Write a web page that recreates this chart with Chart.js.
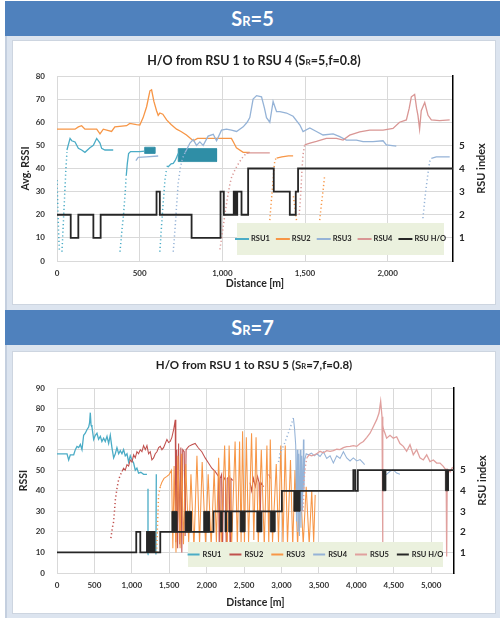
<!DOCTYPE html>
<html>
<head>
<meta charset="utf-8">
<script src="https://cdn.jsdelivr.net/npm/chart.js@4.4.1/dist/chart.umd.min.js"></script>
<style>
  html, body { margin: 0; padding: 0; background: #fff; }
  body { width: 500px; height: 618px; position: relative; overflow: hidden; font-family: Lato, "Open Sans", sans-serif; }
  .bar { position: absolute; left: 5px; width: 495px; height: 35px; background: #4f81bd; color: #fff;
         font-weight: bold; font-size: 20px; text-align: center; line-height: 35px; }
  .bar .r { font-size: 13px; }
  .panel { position: absolute; left: 5px; width: 495px; background: #dce4ef; border-left: 2px solid #c4cfdf; box-sizing: border-box; }
  .card { position: absolute; left: 13px; width: 482px; background: #fff; box-shadow: 0 0 0 1px #cdd5e0; }
  .card canvas { position: absolute; left: 0; top: 0; }
  .ttl { position: absolute; left: 0; right: 0; text-align: center; font-weight: bold; color: #1f1f1f; white-space: nowrap; }
  .ttl .r { font-size: 0.66em; }
</style>
</head>
<body>
<div class="bar" style="top:1px">S<span class="r">R</span>=5</div>
<div class="panel" style="top:36px;height:274px"></div>
<div class="card" style="top:41px;height:263px">
  <canvas id="c5" width="482" height="263"></canvas>
  <div class="ttl" style="top:12px;font-size:12.5px;line-height:16px">H/O from RSU 1 to RSU 4 (S<span class="r">R</span>=5,f=0.8)</div>
</div>
<div class="bar" style="top:310px">S<span class="r">R</span>=7</div>
<div class="panel" style="top:345px;height:273px"></div>
<div class="card" style="top:352px;height:261px">
  <canvas id="c7" width="482" height="261"></canvas>
  <div class="ttl" style="top:5px;font-size:11.5px;line-height:15px">H/O from RSU 1 to RSU 5 (S<span class="r">R</span>=7,f=0.8)</div>
</div>

<script>
// ---------- S_R = 5 : [distance m, RSSI]; null breaks a trace ----------
const s5Rsu1 = [[60,48],[79,53],[89,52],[109,51.5],[129,48.7],[149,48],[169,47],[199,49],[220,50],[240,53],[260,51],[270,48.7],[290,48],[340,48], null,
  [419,37],[425,42],[433,46.5],[445,47.3],[500,47.3],[530,47.5], null,
  [663,41],[673,40.8],[690,42],[703,42.2],[715,43.5],[723,44.8],[733,46.5]];
const s5Rsu1Approach = [[0,35],[3,28],[6,21],[9,14],[12,8],[15,4], null,
  [30,4],[36,13],[42,22],[48,31],[54,40],[60,47], null,
  [381,4],[391,12],[401,19],[411,28],[417,35],[419,37], null,
  [622,4],[632,15],[642,25],[653,35],[663,40]];
const s5Rsu1Dense = [[530,49.2],[592,49.2],[592,46.5],[530,46.5],[530,49.2], null,
  [733,43],[733,48.6],[965,48.6],[965,43],[733,43]];
const s5Rsu2 = [[0,57],[109,57],[129,58],[149,58.5],[169,57],[240,57],[260,55],[280,57],[330,56],[350,58],[421,58.5],[440,59.5],[481,59],
  [501,58.8],[521,62],[542,66.7],[562,73.6],[572,74],[586,69],[602,65],[612,63],[622,64],[640,63.5],[663,61],[690,59],[723,57],[750,56],
  [783,54.5],[824,52],[850,53],[884,53],[945,53],[1005,53],[1055,53],[1070,51],[1085,49],[1126,47],[1166,47], null,
  [1328,44.5],[1360,45],[1400,45.5],[1428,45.5]];
const s5Rsu2Approach = [[1287,17.7],[1295,25],[1305,33],[1312,40],[1318,43.7],[1328,44.5], null,
  [1430,28],[1440,22],[1450,17], null,
  [1589,17.7],[1600,25],[1610,31],[1619,37]];
const s5Rsu3 = [[477,43.4],[491,44.8],[540,45],[612,45.4], null,
  [775,47],[783,48],[804,51],[824,52.5],[844,50],[864,51.5],[884,50],[914,54],[945,54.8],[965,52],[995,56.6],[1025,57],[1055,56.6],
  [1086,56],[1126,58],[1150,60],[1166,62],[1186,70],[1207,71.5],[1237,71],[1255,66],[1267,62],[1287,60],[1307,69],[1328,64.6],
  [1348,64.6],[1388,64],[1428,62.6],[1469,58.8],[1488,56],[1529,57.5],[1569,56],[1609,54.5],[1670,55],[1710,53.8],[1750,52.3],
  [1811,52.3],[1851,51.6],[1911,51.6],[1972,52],[1992,50.2],[2052,49.7], null,
  [2264,44.4],[2294,45],[2375,45]];
const s5Rsu3Approach = [[703,4],[713,13],[723,23.5],[733,33.6],[747,40.8],[759,44.4],[775,47], null,
  [2213,18.5],[2225,27],[2240,36],[2254,43],[2264,44.4]];
const s5Rsu4 = [[1146,46.5],[1166,46.8],[1287,46.8], null,
  [1498,50.2],[1530,51],[1569,51.7],[1629,53],[1690,53],[1730,52.3],[1770,54.4],[1831,55.8],[1891,56.6],[1972,56.6],[2032,57.3],
  [2072,60],[2113,61],[2130,66],[2143,71],[2163,72],[2175,66],[2183,63],[2193,57],[2203,65],[2224,68.5],[2244,63],[2264,61],
  [2314,60.7],[2375,61]];
const s5Rsu4Approach = [[985,5],[1000,12],[1015,20],[1030,27],[1045,33],[1055,36],[1080,40],[1105,43],[1130,45.5],[1146,46.5], null,
  [1465,20],[1475,30],[1482,40],[1488,46],[1498,50.2]];
// serving RSU index, listed where the index changes
const s5Handover = [[0,2],[83,1],[129,2],[220,1],[264,2],[602,3],[622,2],[814,1],[989,3],[1009,2],[1069,3],[1080,2],[1090,3],[1116,2],
  [1156,4],[1311,3],[1408,2],[1444,3],[1458,4],[2395,4]];

// ---------- S_R = 7 ----------
const s7Rsu1 = [[0,58],[134,58],[156,55],[178,57.5],[223,57.5],[245,60],[267,61.6],[290,61],[312,62.5],[334,60],[356,67],[378,68],[400,69.7],
  [423,71],[435,73],[445,78],[455,72],[467,71],[490,65],[512,67],[534,68],[556,65],[579,66.5],[600,64],[623,65.6],[645,64],[668,66.5],
  [690,63],[712,67],[734,61],[757,56],[779,58],[801,61],[824,58],[846,59.5],[868,58],[890,60],[912,57],[935,58],[957,54],[979,57],
  [1002,55],[1024,53.5],[1046,50],[1068,51],[1090,48.6],[1120,49],[1157,48],[1202,48], null,
  [1212,9],[1216,41], null,
  [1322,9],[1327,48]];
const s7Rsu2 = [[868,49.4],[890,51],[912,50],[935,52.7],[957,52],[979,55],[1002,54],[1024,57.5],[1046,56],[1068,59],[1090,58],[1113,60],
  [1135,59],[1157,62],[1180,60],[1202,62],[1224,58],[1246,59],[1268,55],[1291,56],[1313,58],[1335,59],[1358,61],[1380,61.6],[1402,60],
  [1424,61],[1447,63],[1469,65],[1491,63.5],[1513,64],[1535,66],[1560,70],[1580,74.5],[1588,15],[1600,60],[1612,12],[1625,63],[1640,14],
  [1655,61],[1668,10],[1680,60],[1700,59],[1712,18],[1725,60],[1760,61.6],[1802,62.4],[1846,63],[1890,60.8],[1935,59],[1980,56],
  [2024,53.5],[2069,51],[2113,49.4],[2158,47],[2168,12],[2180,46],[2200,48],[2212,8],[2225,47],[2250,45],[2262,10],[2275,46],[2300,47],
  [2312,14],[2325,46],[2350,45], null,
  [2580,44],[2600,40],[2625,46],[2650,42],[2680,47],[2700,44],[2712,20],[2725,44],[2760,42], null,
  [2830,48],[2850,46]];
const s7Rsu2Approach = [[720,17],[740,22],[757,25],[770,31],[779,35.5],[801,41],[823,45.4],[845,47.5],[868,49.4]];
const s7Rsu3 = [[1380,42],[1400,44],[1430,46],[1469,47],[1500,48],[1530,50],[1548,12],[1565,52],[1590,10],[1615,57],[1645,12],[1665,58],
  [1690,14],[1720,53],[1760,15],[1790,48],[1830,12],[1870,57],[1905,14],[1940,54],[1985,14],[2020,48],[2060,13],[2100,50],[2130,15],
  [2160,56],[2195,14],[2240,62],[2275,13],[2300,62],[2335,15],[2380,64],[2410,13],[2440,64],[2460,15],[2480,69],[2505,14],[2530,66],
  [2560,15],[2600,68],[2630,16],[2660,66],[2690,14],[2730,60],[2770,13],[2805,62],[2830,14],[2850,65],[2880,15],[2930,53],[2960,15],
  [2990,62],[3020,14],[3050,62],[3080,14],[3120,55],[3150,13],[3180,50],[3215,13],[3250,45],[3290,14],[3330,42],[3370,14],[3404,40],
  [3430,15],[3450,38]];
const s7Rsu3Approach = [[1330,10],[1340,20],[1350,30],[1357,38],[1380,42]];
const s7Rsu4 = [[3159,75.4],[3175,70],[3190,62],[3200,25],[3210,60],[3220,20],[3230,58],[3240,18],[3250,60],[3260,22],[3270,57],[3280,30],
  [3293,65],[3300,40],[3310,55],[3330,58],[3360,57.5],[3400,58.3],[3440,57],[3470,58],[3515,56.7],[3560,59],[3604,55.7],[3649,57],
  [3693,53.5],[3738,57],[3782,55.7],[3827,59],[3871,56],[3916,54.5],[3960,56],[4005,54.5],[4050,55.2],[4094,53.5],[4110,52.7], null,
  [4383,40.5],[4390,47.8],[4405,48],[4450,49.5],[4494,50.2],[4539,48.6],[4583,48]];
const s7Rsu4Approach = [[2960,54],[2980,58],[3000,60],[3030,62],[3060,65],[3090,68],[3120,71],[3159,75.4]];
const s7Rsu5 = [[3338,56],[3370,57.5],[3400,57],[3440,57.5],[3470,58],[3515,59.2],[3560,58.5],[3604,59.5],[3649,59.2],[3693,59.5],
  [3738,60.2],[3782,60],[3827,61],[3871,61.5],[3916,61.6],[3960,62],[4005,61.6],[4050,63],[4094,64],[4140,66],[4183,68],[4228,71.3],
  [4272,74.6],[4303,77.8],[4325,83.5],[4343,76],[4350,14.6],[4356,72],[4361,70],[4383,68],[4405,65.6],[4450,67],[4494,65.6],[4539,66.3],
  [4583,63],[4628,61.6],[4672,59.2],[4717,62.4],[4761,57.5],[4806,60],[4850,56],[4895,55],[4940,57.5],[4984,54.2],[5029,55],[5073,53.5],
  [5118,53.5],[5162,51.9],[5200,50],[5207,8],[5215,50.5],[5252,49.2],[5287,51.5]];
const s7Rsu5Approach = [[3290,30],[3300,45],[3320,52],[3338,56]];
const s7Handover = [[0,1],[1059,2],[1113,1],[1202,2],[1210,1],[1232,2],[1240,1],[1262,2],[1275,1],[1298,2],[1305,1],[1380,2],[2091,3],
  [3005,4],[3960,5],[3985,4],[4020,5],[5305,5]];
// stretches of rapid switching: [from m, to m, lower index, upper index]
const s7Switching = [[1535,1602,2,3],[1713,1795,2,3],[1960,2035,2,3],[2180,2205,2,3],[2245,2262,2,3],[2295,2335,2,3],[2447,2510,2,3],
  [2670,2735,2,3],[2850,2912,2,3],[3165,3245,3,4],[4350,4392,4,5],[5190,5230,4,5]];

const distanceTicks5 = [0, 500, 1000, 1500, 2000];
const distanceTicks7 = [0, 500, 1000, 1500, 2000, 2500, 3000, 3500, 4000, 4500, 5000];
const rsuIndexTicks = [1, 2, 3, 4, 5];
const legend5 = ['RSU1', 'RSU2', 'RSU3', 'RSU4', 'RSU H/O'];
const legend7 = ['RSU1', 'RSU2', 'RSU3', 'RSU4', 'RSU5', 'RSU H/O'];

// ---------- drawing ----------
const FONT = 'Lato, "Open Sans", "DejaVu Sans", sans-serif';
const C = { teal: '#4bacc6', tealDark: '#2f8ea6', orange: '#f79646', blue: '#95b3d7', pink: '#d99694',
            red: '#c0504d', pink7: '#e0a09e', black: '#262626' };

function toPoints(arr) {
  return arr.map((p, i) => p ? { x: p[0], y: p[1] } : { x: arr[i - 1][0], y: null });
}
function blocksToPoints(blocks) {
  const out = [];
  blocks.forEach(([d0, d1, lo, hi]) => {
    out.push({ x: d0, y: lo }, { x: d0, y: hi }, { x: d1, y: hi }, { x: d1, y: lo }, { x: d0, y: lo }, { x: d1, y: null });
  });
  return out;
}
function series(data, color, kind, axis) {
  const ds = { data, borderColor: color, backgroundColor: color, pointRadius: 0, pointHoverRadius: 0, borderWidth: 1.3,
               fill: false, tension: 0, spanGaps: false, yAxisID: axis || 'y' };
  if (kind === 'dots') Object.assign(ds, { borderDash: [1.2, 2.6], borderWidth: 1.5 });
  if (kind === 'spiky') Object.assign(ds, { borderWidth: 1.05 });
  if (kind === 'area') Object.assign(ds, { fill: 'shape', borderWidth: 0.8 });
  if (kind === 'step') Object.assign(ds, { stepped: true, borderWidth: 1.8 });
  return ds;
}

function insetLegend(o) {
  return {
    id: 'insetLegend',
    afterDatasetsDraw(chart) {
      const { ctx, chartArea: a } = chart;
      const x0 = a.right - o.right - o.width, y0 = a.bottom - o.bottom - o.height;
      ctx.save();
      ctx.fillStyle = '#ebf1de';
      ctx.fillRect(x0, y0, o.width, o.height);
      ctx.font = 'bold ' + o.fontSize + 'px ' + FONT;
      const widths = o.items.map(it => o.swatch + o.swatchGap + ctx.measureText(it.label).width);
      const total = widths.reduce((s, w) => s + w, 0) + o.itemGap * (o.items.length - 1);
      let x = x0 + (o.width - total) / 2;
      const cy = y0 + o.height / 2;
      ctx.textBaseline = 'middle';
      o.items.forEach((it, i) => {
        ctx.strokeStyle = it.color; ctx.lineWidth = 2;
        ctx.beginPath(); ctx.moveTo(x, cy); ctx.lineTo(x + o.swatch, cy); ctx.stroke();
        ctx.fillStyle = '#262626';
        ctx.fillText(it.label, x + o.swatch + o.swatchGap, cy);
        x += widths[i] + o.itemGap;
      });
      ctx.restore();
    }
  };
}
function indexTitle(offset) {
  return {
    id: 'indexTitle',
    afterDraw(chart) {
      const { ctx, chartArea: a } = chart;
      ctx.save();
      ctx.translate(a.right + offset, (a.top + a.bottom) / 2);
      ctx.rotate(-Math.PI / 2);
      ctx.font = 'bold 11px ' + FONT;
      ctx.fillStyle = '#262626';
      ctx.textAlign = 'center'; ctx.textBaseline = 'middle';
      ctx.fillText('RSU index', 0, 0);
      ctx.restore();
    }
  };
}

function buildChart(id, c) {
  c.datasets.forEach((d, i) => { d.order = c.datasets.length - i; });
  const tickFont = { family: FONT, size: 8, weight: 'bold' };
  return new Chart(document.getElementById(id), {
    type: 'line',
    data: { datasets: c.datasets },
    options: {
      responsive: false, animation: false, events: [],
      layout: { padding: { top: c.padTop, left: 0, right: 0, bottom: 0 } },
      plugins: { legend: { display: false }, tooltip: { enabled: false } },
      scales: {
        x: {
          type: 'linear', min: 0, max: c.xMax,
          afterBuildTicks: s => { s.ticks = c.xTicks.map(v => ({ value: v })); },
          ticks: { maxRotation: 0, autoSkip: false, font: tickFont, color: '#333', padding: 8,
                   callback: v => v.toLocaleString('en-US') },
          grid: { color: '#d9d9d9', drawTicks: false }, border: { color: '#d9d9d9' },
          title: { display: true, text: 'Distance [m]', color: '#262626', font: { family: FONT, size: 10.5, weight: 'bold' },
                   padding: { top: 0, bottom: c.xTitlePad } },
          afterFit: s => { s.height = c.xHeight; }
        },
        y: {
          min: 0, max: c.yMax,
          ticks: { stepSize: 10, font: tickFont, color: '#333', padding: 12 },
          grid: { color: '#d9d9d9', drawTicks: false }, border: { color: '#d9d9d9' },
          title: { display: true, text: c.yTitle, color: '#262626', font: { family: FONT, size: 10.5, weight: 'bold' },
                   padding: { top: c.yTitlePad, bottom: 0 } },
          afterFit: s => { s.width = 44; }
        },
        y2: {
          position: 'right', min: 0, max: c.yMax / 10,
          afterBuildTicks: s => { s.ticks = rsuIndexTicks.map(v => ({ value: v })); },
          ticks: { font: { family: FONT, size: 10, weight: 'bold' }, color: '#262626', padding: 6 },
          grid: { display: false, drawTicks: false }, border: { color: '#000', width: 1.5 },
          afterFit: s => { s.width = c.y2Width; }
        }
      }
    },
    plugins: [insetLegend(c.legend), indexTitle(28)]
  });
}

buildChart('c5', {
  xMax: 2395, xTicks: distanceTicks5, yMax: 80, padTop: 35, xHeight: 43, xTitlePad: 14, yTitle: 'Avg. RSSI', yTitlePad: 6, y2Width: 42,
  legend: { right: 9, bottom: 6, width: 207, height: 32, fontSize: 7.5, swatch: 14, swatchGap: 2, itemGap: 6,
            items: legend5.map((label, i) => ({ label, color: [C.teal, C.orange, C.blue, C.pink, C.black][i] })) },
  datasets: [
    series(toPoints(s5Rsu1Dense), C.tealDark, 'area'),
    series(toPoints(s5Rsu1), C.teal), series(toPoints(s5Rsu1Approach), C.teal, 'dots'),
    series(toPoints(s5Rsu2), C.orange), series(toPoints(s5Rsu2Approach), C.orange, 'dots'),
    series(toPoints(s5Rsu3), C.blue), series(toPoints(s5Rsu3Approach), C.blue, 'dots'),
    series(toPoints(s5Rsu4), C.pink), series(toPoints(s5Rsu4Approach), C.pink, 'dots'),
    series(toPoints(s5Handover), C.black, 'step', 'y2')
  ]
});

buildChart('c7', {
  xMax: 5305, xTicks: distanceTicks7, yMax: 90, padTop: 36, xHeight: 40, xTitlePad: 4, yTitle: 'RSSI', yTitlePad: 4, y2Width: 41,
  legend: { right: 11, bottom: 6, width: 255, height: 25, fontSize: 7.5, swatch: 12, swatchGap: 3, itemGap: 8,
            items: legend7.map((label, i) => ({ label, color: [C.teal, C.red, C.orange, C.blue, C.pink7, C.black][i] })) },
  datasets: [
    series(toPoints(s7Rsu1), C.teal),
    series(toPoints(s7Rsu2), C.red, 'spiky'), series(toPoints(s7Rsu2Approach), C.red, 'dots'),
    series(toPoints(s7Rsu3), C.orange, 'spiky'), series(toPoints(s7Rsu3Approach), C.orange, 'dots'),
    series(toPoints(s7Rsu4), C.blue, 'spiky'), series(toPoints(s7Rsu4Approach), C.blue, 'dots'),
    series(toPoints(s7Rsu5), C.pink7), series(toPoints(s7Rsu5Approach), C.pink7, 'dots'),
    series(blocksToPoints(s7Switching), C.black, 'area', 'y2'),
    series(toPoints(s7Handover), C.black, 'step', 'y2')
  ]
});
</script>
</body>
</html>
